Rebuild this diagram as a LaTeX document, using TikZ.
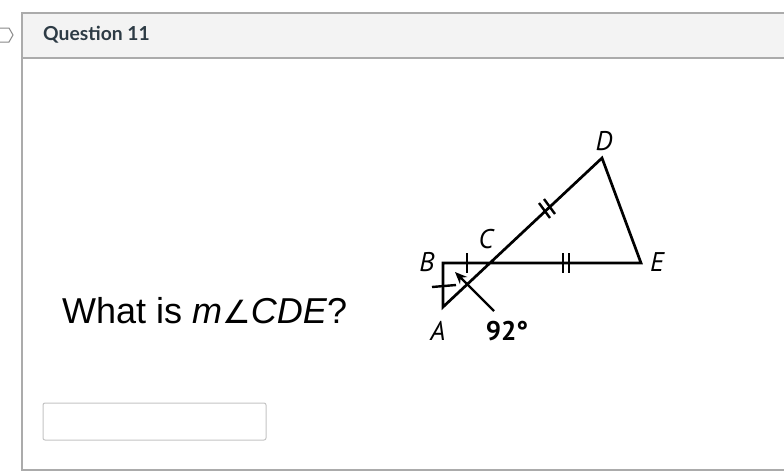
\documentclass[tikz,border=0pt]{standalone}
\usepackage{fontspec}
\usetikzlibrary{arrows.meta}
\setmainfont{Liberation Sans}
\newfontfamily\latofont{Lato}
\newfontfamily\labfont{PT Sans}
\newfontfamily\dejafont{DejaVu Sans}
\definecolor{panelline}{HTML}{ABABAB}
\definecolor{headfill}{HTML}{F3F3F3}
\definecolor{headtext}{HTML}{2D3B45}
\definecolor{boxline}{HTML}{C4C4C4}
\tikzset{
  geo/.style={line width=2.7pt, line join=miter, black},
  tick/.style={line width=2.4pt, black},
  ptlabel/.style={font=\labfont\itshape\fontsize{27}{27}\selectfont, inner sep=0pt},
}
\begin{document}
\begin{tikzpicture}[x=1pt,y=-1pt]
\useasboundingbox (0,0) rectangle (784,475);
\fill[white] (0,0) rectangle (784,475);
% panel
\fill[headfill] (22,13) rectangle (784,58);
\draw[panelline, line width=1.2pt] (790,13) -- (22,13) -- (22,470) -- (790,470);
\draw[panelline, line width=1.2pt] (22,58) -- (790,58);
% tab fragment
\draw[panelline!80!black, line width=1pt] (-2,28) -- (9,28) -- (13,35) -- (9,42) -- (-2,42);
\node[anchor=base west, inner sep=0pt, text=headtext, font=\latofont\bfseries\fontsize{19.3}{19.3}\selectfont] (title) at (43,40.5) {Question 11};
% question
\node[anchor=base west, inner sep=0pt, font=\fontsize{36}{36}\selectfont] (q) at (62,323) {What is \textit{m}{\dejafont\fontsize{32}{32}\selectfont∠}\textit{CDE}?};
% answer box
\draw[boxline, line width=1pt, rounded corners=2pt] (43,403) rectangle (266,440);
% geometry
\coordinate (A) at (443,307);
\coordinate (B) at (443,263);
\coordinate (D) at (602,158);
\coordinate (E) at (641,263);
\coordinate (C) at (490,263);
\draw[geo] (B) -- (E) -- (D) -- (A) -- cycle;
% ticks
\draw[tick] (467,253) -- (467,273);
\draw[tick] (432,287) -- (456,285);
\draw[tick] (539,203) -- (550,218);
\draw[tick] (544,199) -- (555,214);
\draw[tick] (563,253) -- (563,273);
\draw[tick] (569,253) -- (569,273);
% arrow
\coordinate (arrS) at (494,311);
\coordinate (arrE) at (455,272);
\draw[tick, -{Stealth[length=12pt,width=10pt]}] (arrS) -- (arrE);
% labels
\node[ptlabel] (lD) at (604,141) {D};
\node[ptlabel] (lC) at (486,239) {C};
\node[ptlabel] (lB) at (427,262) {B};
\node[ptlabel] (lE) at (657,262) {E};
\node[ptlabel] (lA) at (438,331) {A};
\node[inner sep=0pt, font=\labfont\bfseries\fontsize{27}{27}\selectfont] (ang) at (507,331) {92°};
\end{tikzpicture}
\end{document}
